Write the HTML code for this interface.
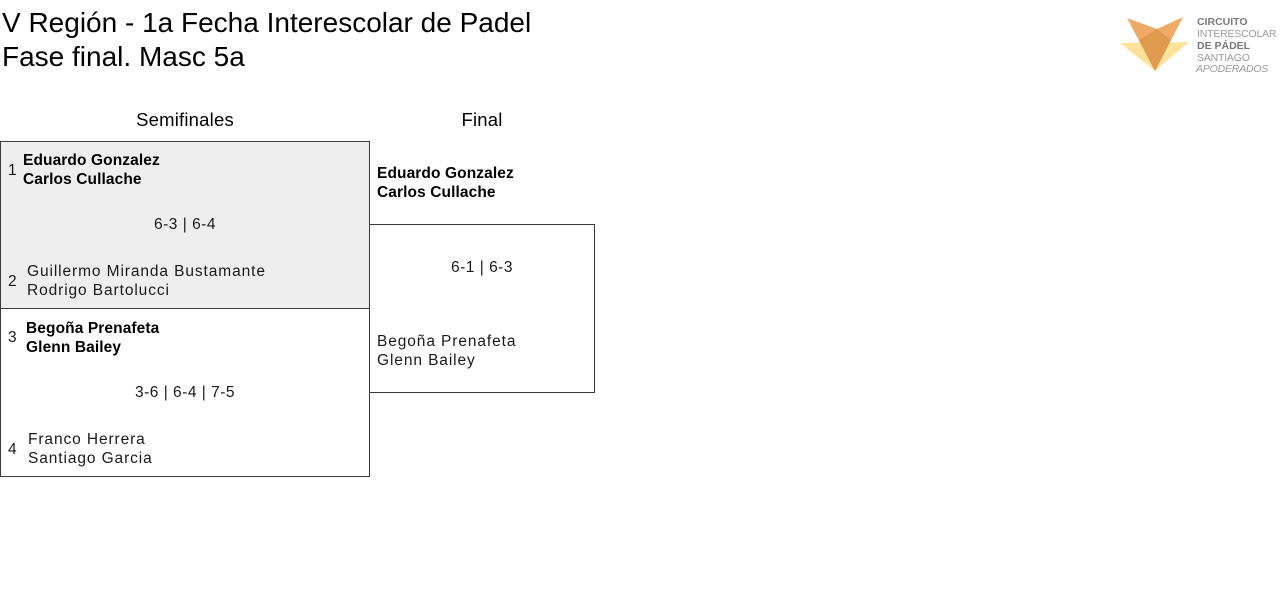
<!DOCTYPE html>
<html>
<head>
<meta charset="utf-8">
<style>
  html,body{margin:0;padding:0;background:#fff;}
  body{width:1280px;height:595px;position:relative;overflow:hidden;font-family:"Liberation Sans",Arial,sans-serif;color:#111;}
  .a{position:absolute;white-space:nowrap;}
  .title{left:2px;top:6px;font-size:28px;line-height:34px;color:#000;}
  .hdr{font-size:18.5px;line-height:20px;letter-spacing:0.2px;color:#000;transform:translateX(-50%);}
  .box{position:absolute;box-sizing:border-box;border:1px solid #3a3a3a;}
  .w{font-weight:bold;font-size:15.5px;line-height:19px;letter-spacing:0.1px;color:#000;}
  .l{font-size:15.5px;line-height:19px;letter-spacing:0.9px;color:#1a1a1a;}
  .n{font-size:15.5px;line-height:20px;color:#1a1a1a;}
  .s{font-size:15.5px;line-height:20px;letter-spacing:0.5px;color:#1a1a1a;transform:translateX(-50%);}
  .lg{font-size:10.5px;line-height:12px;letter-spacing:-0.2px;color:#9a9a9a;}
  .lgb{font-weight:bold;color:#7a7a7a;letter-spacing:0;}
</style>
</head>
<body>
  <div class="a title">V Región - 1a Fecha Interescolar de Padel<br>Fase final. Masc 5a</div>

  <!-- logo -->
  <svg class="a" style="left:0;top:0" width="1280" height="90" viewBox="0 0 1280 90">
    <polygon points="1120,43 1189,42 1155,71" fill="#fde39a"/>
    <polygon points="1127,18 1157,29 1183,17 1155,71" fill="#eeab68"/>
    <polygon points="1139,40 1157,29 1171,40 1155,71" fill="#e09a50"/>
  </svg>
  <div class="a lg lgb" style="left:1197px;top:16px;">CIRCUITO</div>
  <div class="a lg" style="left:1197px;top:28px;">INTERESCOLAR</div>
  <div class="a lg lgb" style="left:1197px;top:40px;">DE PÁDEL</div>
  <div class="a lg" style="left:1197px;top:52px;">SANTIAGO</div>
  <div class="a lg" style="left:1196px;top:63px;font-style:italic;">APODERADOS</div>

  <!-- headers -->
  <div class="a hdr" style="left:185px;top:110px;">Semifinales</div>
  <div class="a hdr" style="left:482px;top:110px;">Final</div>

  <!-- boxes -->
  <div class="box" style="left:0;top:141px;width:370px;height:168px;background:#eeeeee;"></div>
  <div class="box" style="left:0;top:308px;width:370px;height:169px;background:#fff;"></div>
  <div class="box" style="left:369px;top:224px;width:226px;height:169px;background:#fff;"></div>

  <!-- semifinal 1 -->
  <div class="a n" style="left:8px;top:161px;">1</div>
  <div class="a w" style="left:23px;top:151px;">Eduardo Gonzalez</div>
  <div class="a w" style="left:23px;top:170px;">Carlos Cullache</div>
  <div class="a s" style="left:185px;top:215px;">6-3 | 6-4</div>
  <div class="a n" style="left:8px;top:272px;">2</div>
  <div class="a l" style="left:27px;top:262px;">Guillermo Miranda Bustamante</div>
  <div class="a l" style="left:27px;top:281px;">Rodrigo Bartolucci</div>

  <!-- semifinal 2 -->
  <div class="a n" style="left:8px;top:328px;">3</div>
  <div class="a w" style="left:26px;top:319px;">Begoña Prenafeta</div>
  <div class="a w" style="left:26px;top:338px;">Glenn Bailey</div>
  <div class="a s" style="left:185px;top:383px;">3-6 | 6-4 | 7-5</div>
  <div class="a n" style="left:8px;top:440px;">4</div>
  <div class="a l" style="left:28px;top:430px;">Franco Herrera</div>
  <div class="a l" style="left:28px;top:449px;">Santiago Garcia</div>

  <!-- final -->
  <div class="a w" style="left:377px;top:164px;">Eduardo Gonzalez</div>
  <div class="a w" style="left:377px;top:183px;">Carlos Cullache</div>
  <div class="a s" style="left:482px;top:258px;">6-1 | 6-3</div>
  <div class="a l" style="left:377px;top:332px;">Begoña Prenafeta</div>
  <div class="a l" style="left:377px;top:351px;">Glenn Bailey</div>
</body>
</html>
